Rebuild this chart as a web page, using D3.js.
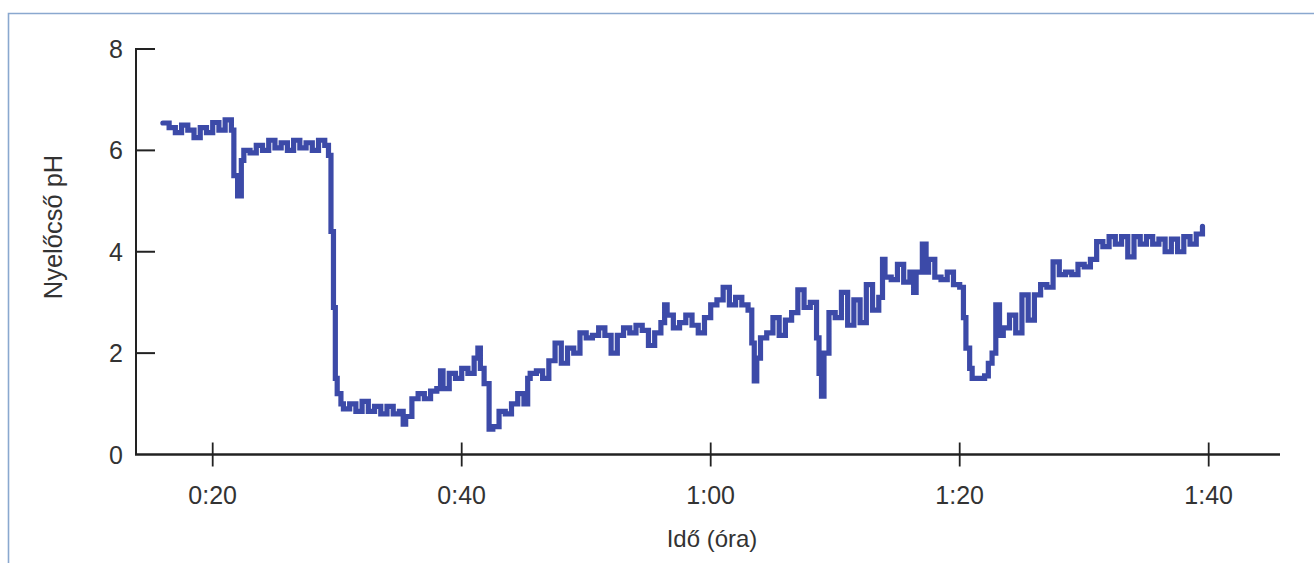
<!DOCTYPE html>
<html><head><meta charset="utf-8">
<script src="https://cdn.jsdelivr.net/npm/d3@7"></script>
<style>
html,body{margin:0;padding:0;background:#fff;}
svg{display:block;}
text{font-family:"Liberation Sans",Arial,sans-serif;fill:#333;}
</style></head><body>
<svg id="chart" width="1314" height="563"></svg>
<script>
// time in minutes
const times = [16.0,16.5,17.0,17.5,18.0,18.5,19.0,19.5,20.0,20.5,21.0,21.5,21.7,22.0,22.3,22.5,
23.0,23.5,24.0,24.5,25.0,25.5,26.0,26.5,27.0,27.5,28.0,28.5,29.0,29.3,29.5,29.7,29.85,30.0,30.3,30.5,
31.0,31.5,32.0,32.5,33.0,33.5,34.0,34.5,35.0,35.3,35.5,36.0,36.5,37.0,37.5,38.0,38.3,38.5,39.0,39.5,
40.0,40.5,41.0,41.3,41.5,41.8,42.0,42.2,42.5,43.0,43.5,44.0,44.5,45.0,45.3,45.5,46.0,46.5,47.0,47.5,
48.0,48.5,49.0,49.5,50.0,50.5,51.0,51.5,52.0,52.5,53.0,53.5,54.0,54.5,55.0,55.5,56.0,56.3,56.5,57.0,
57.5,58.0,58.5,59.0,59.5,60.0,60.5,61.0,61.5,62.0,62.5,63.0,63.3,63.5,63.7,64.0,64.5,65.0,65.5,66.0,
66.5,67.0,67.5,68.0,68.5,68.7,68.9,69.1,69.5,70.0,70.5,71.0,71.5,72.0,72.5,73.0,73.5,73.8,74.0,74.5,
75.0,75.5,76.0,76.3,76.5,77.0,77.3,77.5,78.0,78.5,79.0,79.5,80.0,80.3,80.5,80.8,81.0,81.5,82.0,82.3,
82.6,82.9,83.2,83.5,84.0,84.5,85.0,85.5,86.0,86.5,87.0,87.5,88.0,88.5,89.0,89.5,90.0,90.5,91.0,91.5,
92.0,92.5,93.0,93.5,94.0,94.5,95.0,95.5,96.0,96.5,97.0,97.5,98.0,98.5,99.0,99.5];
const phValues = [6.54,6.45,6.35,6.5,6.4,6.25,6.45,6.35,6.55,6.4,6.6,6.4,5.5,5.1,5.8,6.0,
5.95,6.1,6.0,6.2,6.05,6.15,6.0,6.2,6.05,6.15,6.0,6.2,6.1,5.9,4.4,2.9,1.5,1.2,1.0,0.9,
1.0,0.85,1.05,0.85,0.95,0.8,0.95,0.8,0.85,0.6,0.75,1.1,1.2,1.1,1.25,1.3,1.65,1.3,1.6,1.5,
1.7,1.6,1.9,2.1,1.7,1.4,1.4,0.5,0.55,0.85,0.8,1.0,1.2,1.0,1.5,1.6,1.65,1.5,1.85,2.2,
1.8,2.1,2.0,2.4,2.3,2.35,2.5,2.35,2.0,2.35,2.5,2.4,2.55,2.45,2.15,2.4,2.6,2.95,2.75,2.5,
2.6,2.75,2.55,2.4,2.7,2.95,3.05,3.3,2.95,3.1,2.95,2.85,2.2,1.45,1.9,2.3,2.4,2.7,2.35,2.65,
2.8,3.25,2.9,3.0,2.3,1.6,1.15,2.0,2.8,2.7,3.2,2.55,3.05,2.6,3.35,2.85,3.1,3.85,3.5,3.45,
3.75,3.4,3.6,3.2,3.6,4.15,3.6,3.85,3.5,3.45,3.6,3.35,3.3,2.7,2.1,1.7,1.5,1.5,1.55,1.8,
2.0,2.95,2.35,2.5,2.75,2.4,3.15,2.65,3.15,3.35,3.3,3.8,3.55,3.6,3.55,3.75,3.7,3.85,4.2,4.1,
4.3,4.15,4.3,3.9,4.3,4.15,4.3,4.15,4.25,4.0,4.25,4.0,4.3,4.15,4.35,4.5];
const xTickValues = [20,40,60,80,100];
const xTickLabels = ["0:20","0:40","1:00","1:20","1:40"];
const yTickValues = [0,2,4,6,8];
const xTitle = "Idő (óra)";
const yTitle = "Nyelőcső pH";

const data = times.map((t,i)=>({t, v: phValues[i]}));
const svg = d3.select("#chart");

// frame
svg.append("path").attr("d","M8.5,563V13.5H1314")
  .attr("fill","none").attr("stroke","#8aa8cf").attr("stroke-width",1.6);

const x = d3.scaleLinear().domain([20,100]).range([212.7,1208.7]);
const y = d3.scaleLinear().domain([0,8]).range([454.5,49]);
const x0 = 136, xEnd = 1280;

// y axis
svg.append("line").attr("x1",x0).attr("x2",x0).attr("y1",y(8)-1).attr("y2",y(0))
  .attr("stroke","#222").attr("stroke-width",2);
yTickValues.forEach(v=>{
  if(v>0) svg.append("line").attr("x1",x0).attr("x2",x0+19).attr("y1",y(v)).attr("y2",y(v))
    .attr("stroke","#222").attr("stroke-width",2);
  svg.append("text").attr("x",123).attr("y",y(v)+9).attr("text-anchor","end")
    .attr("font-size",25).text(v);
});
// x axis
svg.append("line").attr("x1",x0-1).attr("x2",xEnd).attr("y1",y(0)).attr("y2",y(0))
  .attr("stroke","#222").attr("stroke-width",2.6);
xTickValues.forEach((v,i)=>{
  svg.append("line").attr("x1",x(v)).attr("x2",x(v)).attr("y1",y(0)-12).attr("y2",y(0)+12)
    .attr("stroke","#222").attr("stroke-width",1.8);
  svg.append("text").attr("x",x(v)).attr("y",504).attr("text-anchor","middle")
    .attr("font-size",25).text(xTickLabels[i]);
});

// titles
svg.append("text").attr("x",712).attr("y",547).attr("text-anchor","middle")
  .attr("font-size",24).text(xTitle);
svg.append("text").attr("transform","translate(62,227) rotate(-90)")
  .attr("text-anchor","middle").attr("font-size",25.5).text(yTitle);

// line
const line = d3.line().x(d=>x(d.t)).y(d=>y(d.v)).curve(d3.curveStepAfter);
svg.append("path").datum(data).attr("d",line)
  .attr("fill","none").attr("stroke","#3c4aa8").attr("stroke-width",5.2)
  .attr("stroke-linejoin","miter").attr("stroke-linecap","round");
</script>
</body></html>
